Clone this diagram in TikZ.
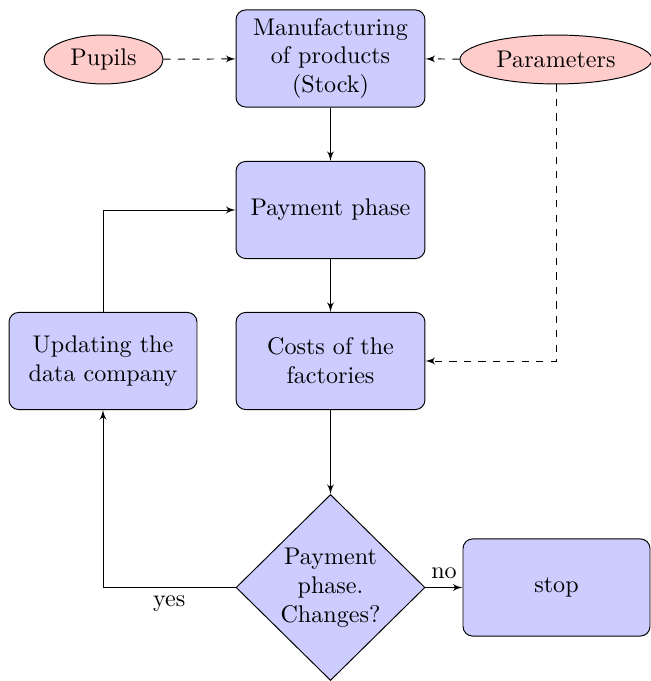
\documentclass[tikz,border=0pt]{standalone}
\usetikzlibrary{shapes.geometric,arrows}
\begin{document}
\begin{tikzpicture}[
  x=0.415pt, y=-0.415pt,
  >=latex',
  block/.style={rectangle, draw, fill=blue!20, rounded corners=4pt,
    minimum width=78.4pt, minimum height=40.3pt, align=center, inner sep=2pt},
  decision/.style={diamond, draw, fill=blue!20, minimum width=78.4pt,
    minimum height=77.2pt, inner sep=0pt, align=center},
  cloud/.style={ellipse, draw, fill=red!20, minimum height=20.3pt, inner sep=1pt},
  line/.style={draw, ->},
  dline/.style={draw, dashed, ->}
]
  \useasboundingbox (0,0) rectangle (650,681);

  % process blocks
  \node[block] (manuf) at (330.5,58.5) {Manufacturing\\of products\\(Stock)};
  \node[block] (pay) at (330.5,210) {Payment phase};
  \node[block] (costs) at (330.5,361) {Costs of the\\factories};
  \node[block, minimum width=78pt] (update) at (103,361) {Updating the\\data company};
  \node[decision] (decide) at (330.5,587.5) {Payment\\phase.\\Changes?};
  \node[block, minimum width=77.6pt] (stop) at (556.5,587.5) {stop};

  % inputs
  \node[cloud, minimum width=49.4pt] (pupils) at (103.5,59.5) {Pupils};
  \node[cloud, minimum width=79.7pt] (params) at (556,59.5) {Parameters};

  % main flow
  \path[line] (manuf) -- (pay);
  \path[line] (pay) -- (costs);
  \path[line] (costs) -- (decide);
  \path[line] (decide) -- node[above] {no} (stop);
  \path[line] (decide) -| node[below, pos=0.25] {yes} (update);
  \path[line] (update) |- (pay);

  % inputs feeding in
  \path[dline] (pupils) -- (manuf);
  \path[dline] (params) -- (manuf);
  \path[dline] (params) |- (costs);
\end{tikzpicture}
\end{document}
